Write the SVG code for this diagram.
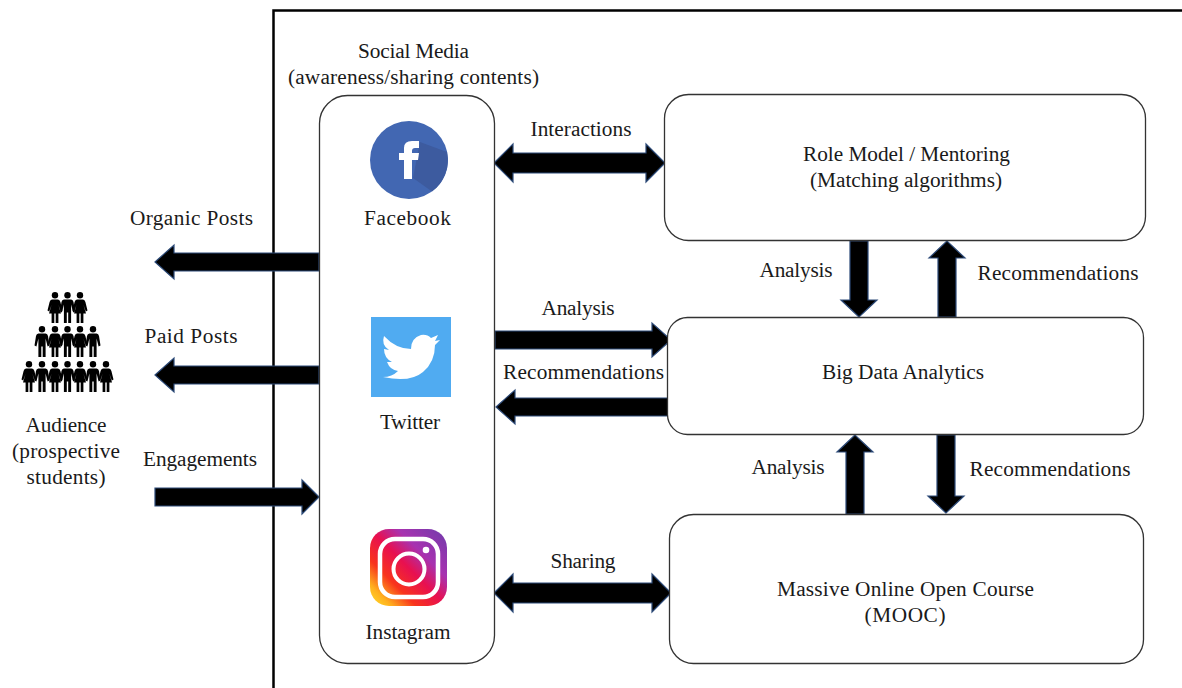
<svg xmlns="http://www.w3.org/2000/svg" width="1182" height="688" viewBox="0 0 1182 688">
<style>
text{font-family:"Liberation Serif","Times New Roman",serif;font-size:21.3px;fill:#1a1a1a;text-anchor:middle}
.box{fill:#fff;stroke:#333;stroke-width:1.3}
.arr{fill:#000;stroke:#2c4a78;stroke-width:1.2;stroke-linejoin:miter}
</style>
<defs>
<g id="man"><circle cx="0" cy="3.2" r="3.2"/><path d="M-3.6 7.5H3.6Q5.5 7.5 6 10L7.5 19.5L5.6 20.5L3.6 12.5V31H.7V20.5H-.7V31H-3.6V12.5L-5.6 20.5L-7.5 19.5L-6 10Q-5.5 7.5-3.6 7.5Z"/></g>
<g id="woman"><circle cx="0" cy="3.2" r="3.2"/><path d="M-3 7.5H3Q4.800 7.500 5.400 10L7.500 18.500L5.800 19.500L3.500 13L6 21.500H3.400V31H.7V21.500H-.7V31H-3.400V21.500H-6L-3.500 13L-5.800 19.500L-7.500 18.500L-5.400 10Q-4.800 7.500-3 7.500Z"/></g>
<linearGradient id="ig" x1="0" y1="1" x2="1" y2="0">
<stop offset="0" stop-color="#ffe02a"/><stop offset=".14" stop-color="#ffb01e"/><stop offset=".3" stop-color="#f8341c"/><stop offset=".5" stop-color="#e81050"/><stop offset=".68" stop-color="#a832b0"/><stop offset="1" stop-color="#6f3bab"/>
</linearGradient>
</defs>
<path d="M273.500 688V10.500H1182" fill="none" stroke="#000" stroke-width="2.500"/>

<g id="connectors">
<polygon class="arr" points="494,163 513,144 513,153 646,153 646,144 665,163 646,182 646,173 513,173 513,182"/>
<polygon class="arr" points="155,262 174,245 174,253 319,253 319,271 174,271 174,279"/>
<polygon class="arr" points="155,375 174,358 174,366 319,366 319,384 174,384 174,392"/>
<polygon class="arr" points="319,497 302,480 302,488 155,488 155,506 302,506 302,514"/>
<polygon class="arr" points="671,340 652,323 652,331 495,331 495,349 652,349 652,357"/>
<polygon class="arr" points="496,407 515,390 515,398 668,398 668,416 515,416 515,424"/>
<polygon class="arr" points="859,317 841,300 850,300 850,241 868,241 868,300 877,300"/>
<polygon class="arr" points="947,241 929,258 938,258 938,317 956,317 956,258 965,258"/>
<polygon class="arr" points="855,435 837,452 846,452 846,514 864,514 864,452 873,452"/>
<polygon class="arr" points="946,513 928,496 937,496 937,435 955,435 955,496 964,496"/>
<polygon class="arr" points="494,593 513,574 513,583 652,583 652,574 671,593 652,612 652,603 513,603 513,612"/>
</g>

<g id="social-media">
<rect class="box" x="319.500" y="95.500" width="175" height="568" rx="28"/>
<text x="413.500" y="58" textLength="111">Social Media</text>
<text x="413.500" y="84" textLength="251">(awareness/sharing contents)</text>
</g>
<g id="facebook">
<circle cx="409" cy="160" r="39" fill="#4267b2"/>
<path d="M420 142L447 152A39 39 0 0 1 432 191.500L413 178Z" fill="#3d5b9f"/>
<path d="M404 179V160H399V153H404V148Q404 141 412 141H419V148H415Q412 148 412 151V153H419L418 160H412V179Z" fill="#fff"/>
<text x="407.500" y="225" textLength="87">Facebook</text>
</g>
<g id="twitter">
<rect x="371" y="317" width="80" height="80" fill="#50abf1"/>
<path d="M384 336Q396 349 411 349Q411 338 421 335Q427 334 431 338L438 335L435 341L440 340L435 345Q435 362 423 372Q410 383 383 377Q392 377 398 371Q390 370 387 362L392 362Q384 358 384 349L389 350Q381 345 384 336Z" fill="#fff"/>
<text x="410" y="429" textLength="60">Twitter</text>
</g>
<g id="instagram">
<rect x="370" y="529" width="77" height="77" rx="19" fill="url(#ig)"/>
<rect x="380" y="539" width="58" height="58" rx="15" fill="none" stroke="#fff" stroke-width="4.500"/>
<circle cx="409" cy="569" r="15.500" fill="none" stroke="#fff" stroke-width="4"/>
<circle cx="426" cy="550" r="3.300" fill="#fff"/>
<text x="408" y="639" textLength="85">Instagram</text>
</g>
<g id="role-model">
<rect class="box" x="664.500" y="94.500" width="481" height="146" rx="24"/>
<text x="906.500" y="161" textLength="207">Role Model / Mentoring</text>
<text x="906" y="187" textLength="192">(Matching algorithms)</text>
</g>
<g id="big-data">
<rect class="box" x="667.500" y="317.500" width="476" height="117" rx="20"/>
<text x="903" y="379" textLength="162">Big Data Analytics</text>
</g>
<g id="mooc">
<rect class="box" x="669.500" y="514.500" width="474" height="149" rx="24"/>
<text x="905.500" y="596" textLength="257">Massive Online Open Course</text>
<text x="905" y="622" textLength="81">(MOOC)</text>
</g>
<g id="audience">
<g fill="#000">
<use href="#woman" x="55" y="292"/><use href="#man" x="67.500" y="292"/><use href="#woman" x="80" y="292"/>
<use href="#man" x="42" y="326"/><use href="#woman" x="55" y="326"/><use href="#man" x="67.500" y="326"/><use href="#woman" x="80" y="326"/><use href="#man" x="93" y="326"/>
<use href="#woman" x="29" y="361"/><use href="#man" x="42" y="361"/><use href="#woman" x="55" y="361"/><use href="#man" x="67.500" y="361"/><use href="#woman" x="80" y="361"/><use href="#man" x="93" y="361"/><use href="#woman" x="106" y="361"/>
</g>
<text x="66" y="432" textLength="81">Audience</text>
<text x="66" y="458" textLength="108">(prospective</text>
<text x="66" y="484" textLength="79">students)</text>
</g>
<g id="labels">
<text x="191.500" y="225" textLength="123">Organic Posts</text>
<text x="191" y="343" textLength="93">Paid Posts</text>
<text x="200" y="466" textLength="114">Engagements</text>
<text x="581" y="136" textLength="101">Interactions</text>
<text x="578" y="315" textLength="73">Analysis</text>
<text x="583.500" y="379" textLength="161">Recommendations</text>
<text x="583" y="568" textLength="65">Sharing</text>
<text x="796" y="277" textLength="73">Analysis</text>
<text x="1058" y="280" textLength="161">Recommendations</text>
<text x="788" y="474" textLength="73">Analysis</text>
<text x="1050" y="476" textLength="161">Recommendations</text>
</g>
</svg>
